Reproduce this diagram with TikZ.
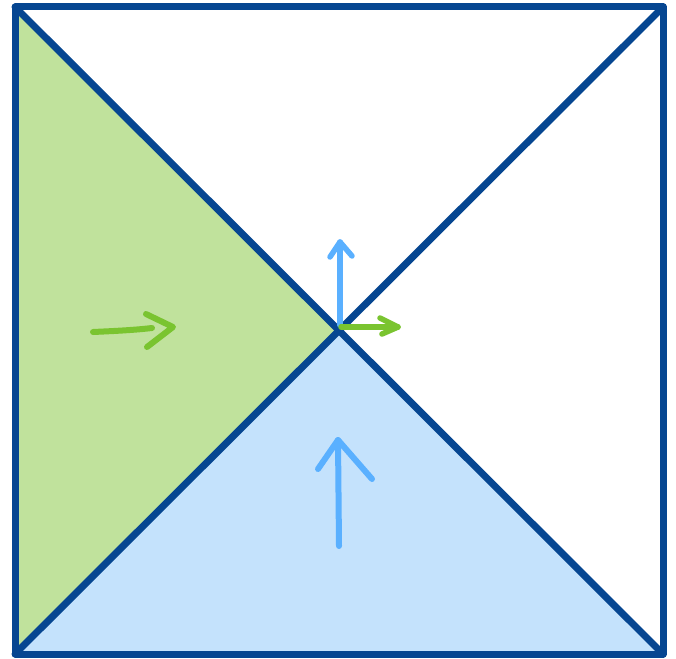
\documentclass[tikz,border=0pt]{standalone}
\begin{document}
\begin{tikzpicture}[x=1pt,y=-1pt,
  frame/.style={draw=darkblue,line width=7pt,line join=round,line cap=round},
  garrow/.style={draw=greenarrow,line width=5.5pt,line cap=round,line join=round},
  barrow/.style={draw=bluearrow,line width=5.5pt,line cap=round,line join=round}]
\definecolor{darkblue}{RGB}{6,70,145}
\definecolor{greenfill}{RGB}{192,226,156}
\definecolor{bluefill}{RGB}{196,226,252}
\definecolor{greenarrow}{RGB}{122,196,48}
\definecolor{bluearrow}{RGB}{90,176,255}
\useasboundingbox (0,0) rectangle (676,658);
\fill[white] (0,0) rectangle (676,658);
\coordinate (TL) at (15,7);
\coordinate (TR) at (663,7);
\coordinate (BL) at (15,654);
\coordinate (BR) at (663,654);
\coordinate (C) at (339,329);
% fills
\fill[greenfill] (TL) -- (C) -- (BL) -- cycle;
\fill[bluefill] (BL) -- (C) -- (BR) -- cycle;
% frame and diagonals
\draw[frame] (TL) -- (TR) -- (BR) -- (BL) -- cycle;
\draw[frame] (TL) -- (BR);
\draw[frame] (TR) -- (BL);
% center arrows
\coordinate (cu) at (340,242);
\coordinate (cr) at (398,327);
\draw[barrow] (340,325) -- (cu);
\draw[barrow] (330,257) -- (cu) -- (352,256);
\draw[garrow] (341,327) -- (cr);
\draw[garrow] (380,318) -- (cr) -- (382,334);
% left green arrow
\coordinate (lt) at (173,327);
\draw[garrow,line width=6pt] (93,332) .. controls (115,331) and (135,330) .. (152,328);
\draw[garrow,line width=6pt] (146,314) -- (lt) -- (147,347);
% bottom blue arrow
\coordinate (bt) at (338,440);
\draw[barrow,line width=6pt] (339,546) -- (bt);
\draw[barrow,line width=6pt] (318,469) -- (bt) -- (372,479);
\end{tikzpicture}
\end{document}
